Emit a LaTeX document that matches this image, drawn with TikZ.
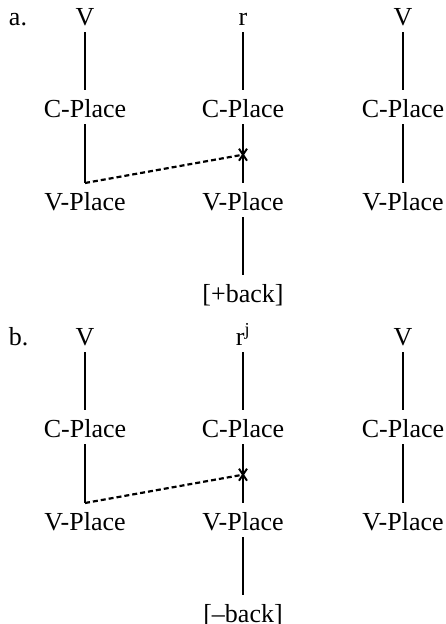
\documentclass[tikz,border=0pt]{standalone}
\usepackage{fontspec}
\setmainfont{Liberation Serif}
\usetikzlibrary{calc}

\tikzset{
    lbl/.style={anchor=base, inner xsep=0pt, inner ysep=7pt, outer sep=0pt,
        text height=20pt, text depth=0pt, font=\fontsize{26}{30}\selectfont},
    tie/.style={line width=2.5pt},
    spread/.style={line width=2.2pt, dash pattern=on 5pt off 3pt},
    delink/.style={line width=2pt}
}

\begin{document}
\begin{tikzpicture}[x=1pt, y=-1pt]
    \useasboundingbox (0,0) rectangle (446,624);

    % two panels, one below the other
    \foreach \p/\dy/\seg/\feat in {a/0/{r}/{[+back]}, b/320/{r\textsuperscript{j}}/{[--back]}} {
        \node[lbl, anchor=base west] (\p-tag) at (9, 25+\dy) {\p.};

        % trigger vowel
        \node[lbl] (\p-V1) at (85, 25+\dy) {V};
        \node[lbl] (\p-C1) at (85, 117+\dy) {C-Place};
        \node[lbl] (\p-P1) at (85, 210+\dy) {V-Place};

        % liquid
        \node[lbl] (\p-V2) at (243, 25+\dy) {\seg};
        \node[lbl] (\p-C2) at (243, 117+\dy) {C-Place};
        \node[lbl] (\p-P2) at (243, 210+\dy) {V-Place};
        \node[lbl] (\p-F2) at (243, 302+\dy) {\feat};

        % target vowel
        \node[lbl] (\p-V3) at (403, 25+\dy) {V};
        \node[lbl] (\p-C3) at (403, 117+\dy) {C-Place};
        \node[lbl] (\p-P3) at (403, 210+\dy) {V-Place};

        \draw[tie] (\p-V1) -- (\p-C1);
        \draw[tie] (\p-C1) -- (\p-P1);
        \draw[tie] (\p-V2) -- (\p-C2);
        \draw[tie] (\p-C2) -- (\p-P2);
        \draw[tie] (\p-P2) -- (\p-F2);
        \draw[tie] (\p-V3) -- (\p-C3);
        \draw[tie] (\p-C3) -- (\p-P3);

        % blocked spreading
        \coordinate (\p-x) at ($(\p-C2.south)!0.52!(\p-P2.north)$);
        \draw[spread] (\p-P1.north) -- (\p-x);
        \draw[delink] ($(\p-x)+(-4,-6)$) -- ($(\p-x)+(4,6)$);
        \draw[delink] ($(\p-x)+(-4,6)$) -- ($(\p-x)+(4,-6)$);
    }
\end{tikzpicture}
\end{document}
